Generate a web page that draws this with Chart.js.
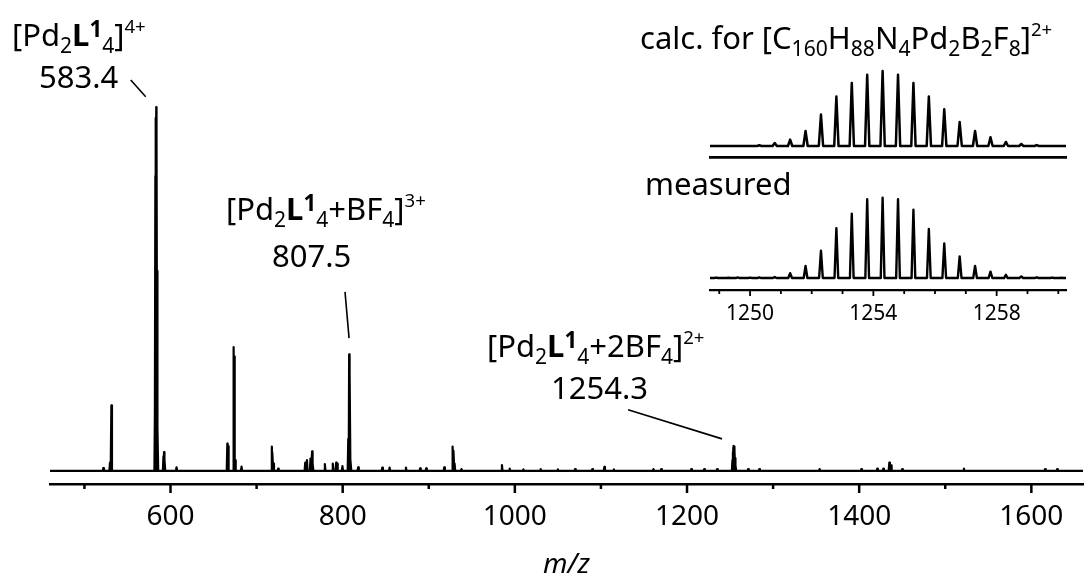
<html>
<head>
	<meta charset="utf-8">
	<script src="https://cdn.jsdelivr.net/npm/chart.js@4.4.1/dist/chart.umd.min.js"></script>
	<title>ESI-MS</title>
	<style>
		body { margin: 0; background: #fff; }
		#wrap { position: relative; width: 1084px; height: 583px; overflow: hidden; background: #fff; }
		canvas { position: absolute; }
		.t { position: absolute; font-family: 'Noto Sans'; font-size: 31px; line-height: 1; white-space: nowrap; color: #000; }
		.sb { font-size: 0.68em; position: relative; top: 0.32em; }
		.sp { font-size: 0.6em; position: relative; top: -0.72em; }
		.one { font-size: 0.72em; font-weight: bold; position: relative; top: -0.42em; }
	</style>
</head>

<body>
<div id="wrap">
	<canvas id="main" width="1084" height="583" style="left:0;top:0"></canvas>
	<canvas id="calc" width="384" height="110" style="left:700px;top:60px"></canvas>
	<canvas id="meas" width="384" height="145" style="left:700px;top:185px"></canvas>

	<div class="t" style="left:12px;top:19px">[Pd<span class="sb">2</span><b>L</b><span class="one">1</span><span class="sb">4</span>]<span class="sp">4+</span></div>
	<div class="t" style="left:39px;top:61px">583.4</div>
	<div class="t" style="left:226px;top:193px">[Pd<span class="sb">2</span><b>L</b><span class="one">1</span><span class="sb">4</span>+BF<span class="sb">4</span>]<span class="sp">3+</span></div>
	<div class="t" style="left:272px;top:240px">807.5</div>
	<div class="t" style="left:487px;top:330px">[Pd<span class="sb">2</span><b>L</b><span class="one">1</span><span class="sb">4</span>+2BF<span class="sb">4</span>]<span class="sp">2+</span></div>
	<div class="t" style="left:551px;top:372px">1254.3</div>
	<div class="t" style="left:640px;top:22px">calc. for [C<span class="sb">160</span>H<span class="sb">88</span>N<span class="sb">4</span>Pd<span class="sb">2</span>B<span class="sb">2</span>F<span class="sb">8</span>]<span class="sp">2+</span></div>
	<div class="t" style="left:645px;top:168px">measured</div>
</div>

<script>
	// full spectrum, relative intensity (%)
	var mainMz = [522, 529.7, 531.3, 582.0, 582.4, 583.0, 583.4, 583.9, 584.4, 585.0, 591.8, 592.5, 593.2, 607,
		666.0, 666.8, 673.3, 674.1, 675.0, 682.5, 717.7, 718.6, 719.5, 725,
		756.5, 758.5, 762.6, 764.5, 765.3, 779.3, 788.5, 792.4, 793.5, 799.7,
		806.5, 807.5, 808.3, 809.3, 818, 846, 854.5, 873.5, 890, 897, 918, 927.7, 929, 930, 938, 985, 994,
		1010, 1030, 1050, 1070, 1090, 1104, 1115, 1161, 1170, 1205, 1220, 1235,
		1252.8, 1253.3, 1253.8, 1254.3, 1254.8, 1255.3, 1255.8, 1256.5, 1271, 1284,
		1354, 1402.5, 1421, 1428, 1435, 1437, 1450, 1521.7, 1616, 1630];
	var mainInt = [0.8, 2.3, 18, 20, 81, 97, 100, 92, 55, 12, 4, 5.2, 3, 1,
		7.5, 6.8, 34, 31.5, 3, 1.2, 6.7, 5, 2, 0.6,
		2.3, 3, 3.4, 5.4, 2, 1.9, 2, 2.3, 2, 1.3,
		8.8, 32, 27, 3, 1, 0.9, 0.9, 0.9, 0.7, 0.7, 1, 6.7, 5.5, 2, 0.5, 1.6, 0.6,
		0.4, 0.5, 0.4, 0.5, 0.5, 1.1, 0.4, 0.5, 0.5, 0.5, 0.5, 0.5,
		3, 5, 6.5, 6.9, 6.7, 5.5, 3.5, 1.5, 0.5, 0.5,
		0.5, 0.5, 0.6, 0.6, 2.3, 1.5, 0.5, 0.6, 0.5, 0.5];
	var mainTicks = [500, 600, 700, 800, 900, 1000, 1100, 1200, 1300, 1400, 1500, 1600];
	var mainLabels = [600, 800, 1000, 1200, 1400, 1600];

	// isotope pattern of [Pd2L1_4+2BF4]2+
	var calcMz = [1250.3, 1250.8, 1251.3, 1251.8, 1252.3, 1252.8, 1253.3, 1253.8, 1254.3, 1254.8,
		1255.3, 1255.8, 1256.3, 1256.8, 1257.3, 1257.8, 1258.3, 1258.8, 1259.3];
	var calcInt = [1, 4, 8.5, 20, 42, 66, 84, 95, 100, 95, 84, 66, 49, 32, 20, 11.6, 5.4, 2.7, 1.3];
	var measMz = [1248.9, 1249.3, 1249.6, 1250.0, 1250.3, 1250.8, 1251.3, 1251.8, 1252.3, 1252.8, 1253.3, 1253.8,
		1254.3, 1254.8, 1255.3, 1255.8, 1256.3, 1256.8, 1257.3, 1257.8, 1258.3, 1258.8, 1259.3, 1259.8, 1260.1];
	var measInt = [0.6, 0.4, 0.8, 0.5, 0.8, 1.2, 6, 15, 34, 62, 80, 98, 100, 98, 85, 61, 43, 27, 15, 8, 4, 2, 1, 0.6, 0.4];
	var insetTicks = [1249, 1250, 1251, 1252, 1253, 1254, 1255, 1256, 1257, 1258, 1259, 1260];
	var insetLabels = [1250, 1254, 1258];

	// leader lines [mz1, y1, mz2, y2]
	var leaders = [[553.8, 107.4, 571.2, 102.8], [802.7, 49.2, 807.4, 36.5], [1131.5, 16.8, 1240.7, 8.8]];

	var FONT = 'Noto Sans';

	function trace(mz, inten, hw, lo, hi) {
		var pts = [{x: lo, y: 0}];
		for (var i = 0; i < mz.length; i++) {
			pts.push({x: mz[i] - hw, y: 0}, {x: mz[i], y: inten[i]}, {x: mz[i] + hw, y: 0});
		}
		pts.push({x: hi, y: 0});
		return pts;
	}

	function tickMarks(ticks, major, majLen, minLen, width) {
		return {
			id: 'tickMarks',
			afterDraw: function(chart) {
				var ctx = chart.ctx, s = chart.scales.x, b = chart.chartArea.bottom;
				ctx.save();
				ctx.strokeStyle = '#000';
				ctx.lineWidth = width;
				ticks.forEach(function(v) {
					var x = s.getPixelForValue(v);
					var len = major.indexOf(v) >= 0 ? majLen : minLen;
					ctx.beginPath();
					ctx.moveTo(x, b);
					ctx.lineTo(x, b + len);
					ctx.stroke();
				});
				ctx.restore();
			}
		};
	}

	var leaderLines = {
		id: 'leaderLines',
		afterDraw: function(chart) {
			var ctx = chart.ctx, sx = chart.scales.x, sy = chart.scales.y;
			ctx.save();
			ctx.strokeStyle = '#000';
			ctx.lineWidth = 1.6;
			leaders.forEach(function(l) {
				ctx.beginPath();
				ctx.moveTo(sx.getPixelForValue(l[0]), sy.getPixelForValue(l[1]));
				ctx.lineTo(sx.getPixelForValue(l[2]), sy.getPixelForValue(l[3]));
				ctx.stroke();
			});
			ctx.restore();
		}
	};

	function spectrum(id, pts, o) {
		return new Chart(document.getElementById(id), {
			type: 'line',
			data: {
				datasets: [{
					data: pts,
					borderColor: '#000',
					borderWidth: o.lw,
					borderJoinStyle: 'round',
					pointRadius: 0,
					tension: 0,
					fill: false
				}]
			},
			options: {
				responsive: false,
				animation: false,
				layout: { padding: o.pad },
				plugins: { legend: { display: false }, tooltip: { enabled: false } },
				scales: {
					x: {
						type: 'linear',
						min: o.xmin,
						max: o.xmax,
						afterBuildTicks: function(s) { s.ticks = o.labels.map(function(v) { return {value: v}; }); },
						afterFit: function(s) { s.height = o.axisH; },
						ticks: {
							display: o.labels.length > 0,
							autoSkip: false,
							maxRotation: 0,
							padding: o.tickPad,
							color: '#000',
							font: { family: FONT, size: o.tickSize },
							callback: function(v) { return String(v); }
						},
						grid: { display: false, drawTicks: false },
						border: { display: true, color: '#000', width: o.axisW },
						title: o.title
					},
					y: { display: false, min: o.ymin, max: o.ymax }
				}
			},
			plugins: o.plugins
		});
	}

	spectrum('main', trace(mainMz, mainInt, 0.7, 460, 1660), {
		lw: 2.2, pad: {left: 50, right: 1, top: 0, bottom: 0},
		xmin: 460, xmax: 1660, ymin: -3.6, ymax: 129.4,
		labels: mainLabels, axisH: 99, tickPad: 16, tickSize: 28, axisW: 2.5,
		title: { display: true, text: 'm/z', color: '#000', font: { family: FONT, size: 28, style: 'italic' }, padding: {top: 0, bottom: 1} },
		plugins: [tickMarks(mainTicks, mainLabels, 9, 5, 2.5), leaderLines]
	});

	spectrum('calc', trace(calcMz, calcInt, 0.07, 1248.7, 1260.25), {
		lw: 2.5, pad: {left: 10, right: 18, top: 0, bottom: 0},
		xmin: 1248.7, xmax: 1260.25, ymin: -15.6, ymax: 114.7,
		labels: [], axisH: 12.3, tickPad: 0, tickSize: 20, axisW: 2.8,
		title: { display: false },
		plugins: []
	});

	spectrum('meas', trace(measMz, measInt, 0.06, 1248.7, 1260.25), {
		lw: 2.4, pad: {left: 10, right: 18, top: 0, bottom: 0},
		xmin: 1248.7, xmax: 1260.25, ymin: -14.9, ymax: 115.8,
		labels: insetLabels, axisH: 40, tickPad: 11, tickSize: 21, axisW: 2.2,
		title: { display: false },
		plugins: [tickMarks(insetTicks, insetLabels, 6, 4, 1.8)]
	});
</script>
</body>
</html>
